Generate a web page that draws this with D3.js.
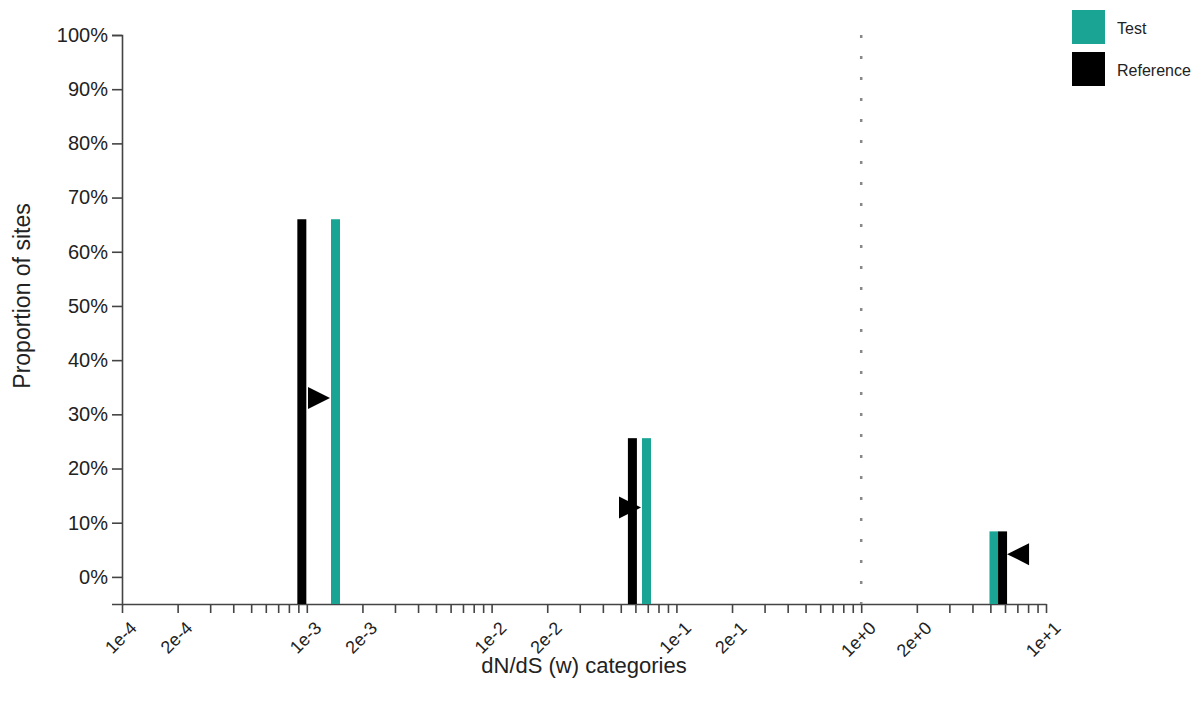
<!DOCTYPE html>
<html>
<head>
<meta charset="UTF-8">
<style>
body {
	margin: 0 ;
	background-color: #ffffff ;
	font-family: "Liberation Sans", Arial, Helvetica, sans-serif ;
}
.axis path, .axis line {
	stroke: #444 ;
	stroke-width: 1.6 ;
}
.axis text {
	fill: #222 ;
	font-family: "Liberation Sans", Arial, Helvetica, sans-serif ;
}
</style>
<title>omega plot</title>
<script src="https://cdn.jsdelivr.net/npm/d3@7/dist/d3.min.js"></script>
</head>
<body>
<div id="chart"></div>
<script type="text/javascript" charset="utf-8">

	// omega categories
	var series = [ "Test", "Reference" ] ;
	var testOmega = [ 0.00143, 0.0689, 5.23 ] ;
	var testWeight = [ 0.66, 0.256, 0.084 ] ;
	var refOmega = [ 0.00094, 0.0578, 5.82 ] ;
	var refWeight = [ 0.66, 0.256, 0.084 ] ;
	var yTicks = [ 0, 0.1, 0.2, 0.3, 0.4, 0.5, 0.6, 0.7, 0.8, 0.9, 1.0 ] ;
	var xDecades = [ -4, -3, -2, -1, 0 ] ;
	var xLabel = "dN/dS (w) categories" ;
	var yLabel = "Proportion of sites" ;

	var colors = { "Test": "#1aa494", "Reference": "#000000" } ;

	var width = 1201 ;
	var height = 706 ;
	var margin = { left: 122, top: 35, right: 155, bottom: 102 } ;

	var svg = d3.select( "#chart" ).append( "svg" )
		.attr( "width", width )
		.attr( "height", height ) ;

	var x = d3.scaleLog()
		.domain( [ 1e-4, 10 ] )
		.range( [ margin.left, width - margin.right ] ) ;

	var y = d3.scaleLinear()
		.domain( [ -0.05, 1 ] )
		.range( [ height - margin.bottom, margin.top ] ) ;

	// every 1..9 x 10^k tick, labels only on 1 and 2
	var xTicks = [] ;
	xDecades.forEach( function(k) {
		for( var m=1 ; m<10 ; m++ ) xTicks.push( m * Math.pow( 10, k ) ) ;
	}) ;
	xTicks.push( 10 ) ;
	var fmt = d3.format( ".0e" ) ;

	var xAxis = d3.axisBottom( x )
		.tickValues( xTicks )
		.tickSize( 9 )
		.tickSizeOuter( 0 )
		.tickFormat( function(d) {
			var lead = Math.round( d / Math.pow( 10, Math.floor( Math.log10( d ) + 1e-9 ) ) ) ;
			return ( lead == 1 || lead == 2 ) ? fmt( d ) : "" ;
		}) ;

	svg.append( "g" )
		.attr( "class", "axis" )
		.attr( "transform", "translate(0," + y( -0.05 ) + ")" )
		.call( xAxis )
		.selectAll( "text" )
			.attr( "font-size", "18px" )
			.style( "text-anchor", "end" )
			.attr( "x", -7 )
			.attr( "y", 16 )
			.attr( "dy", "0.71em" )
			.attr( "transform", "rotate(-45)" ) ;

	var yAxis = d3.axisLeft( y )
		.tickValues( yTicks )
		.tickSize( 10 )
		.tickFormat( d3.format( ".0%" ) ) ;

	var gy = svg.append( "g" )
		.attr( "class", "axis" )
		.attr( "transform", "translate(" + margin.left + ",0)" )
		.call( yAxis ) ;
	gy.selectAll( "text" )
		.attr( "font-size", "20px" )
		.attr( "x", -14 ) ;

	// dotted line at w = 1
	svg.append( "line" )
		.attr( "x1", x( 1 ) )
		.attr( "x2", x( 1 ) )
		.attr( "y1", y( 1 ) )
		.attr( "y2", y( -0.05 ) )
		.attr( "stroke", "#888" )
		.attr( "stroke-width", 2.5 )
		.attr( "stroke-dasharray", "3,18" ) ;

	var barW = 9 ;

	function drawBars( name, omegas, weights ) {
		svg.selectAll( "rect.bar-" + name )
			.data( omegas )
			.enter()
				.append( "rect" )
					.attr( "class", "bar-" + name )
					.attr( "x", function(d) { return x( d ) - barW / 2 } )
					.attr( "width", barW )
					.attr( "y", function(d, i) { return y( weights[i] ) } )
					.attr( "height", function(d, i) { return y( -0.05 ) - y( weights[i] ) } )
					.attr( "fill", colors[ name ] ) ;
	}
	drawBars( "Test", testOmega, testWeight ) ;
	drawBars( "Reference", refOmega, refWeight ) ;

	// arrow heads from reference towards test, half way up
	var arrowL = 22 , arrowH = 22 ;
	svg.selectAll( "path.arrow" )
		.data( refOmega )
		.enter()
			.append( "path" )
				.attr( "class", "arrow" )
				.attr( "fill", "#000" )
				.attr( "d", function(d, i) {
					var dir = testOmega[i] > d ? 1 : -1 ;
					var tip = dir > 0 ? x( testOmega[i] ) - barW / 2 - 1 : x( d ) + barW / 2 ;
					var cy = y( refWeight[i] / 2 ) ;
					var base = tip - dir * arrowL ;
					return "M" + tip + "," + cy +
						"L" + base + "," + ( cy - arrowH / 2 ) +
						"L" + base + "," + ( cy + arrowH / 2 ) + "Z" ;
				}) ;

	// axis titles
	svg.append( "text" )
		.attr( "x", ( x.range()[0] + x.range()[1] ) / 2 )
		.attr( "y", 673 )
		.attr( "text-anchor", "middle" )
		.attr( "font-size", "22px" )
		.attr( "fill", "#222" )
		.text( xLabel ) ;

	svg.append( "text" )
		.attr( "transform", "translate(30," + 296 + ") rotate(-90)" )
		.attr( "text-anchor", "middle" )
		.attr( "font-size", "23px" )
		.attr( "fill", "#222" )
		.text( yLabel ) ;

	// legend
	var legend = svg.selectAll( "g.legend" )
		.data( series )
		.enter()
			.append( "g" )
				.attr( "class", "legend" )
				.attr( "transform", function(d, i) { return "translate(1072," + ( 10 + i * 42 ) + ")" } ) ;
	legend.append( "rect" )
		.attr( "width", 33 )
		.attr( "height", 34 )
		.attr( "fill", function(d) { return colors[ d ] } ) ;
	legend.append( "text" )
		.attr( "x", 45 )
		.attr( "y", 24 )
		.attr( "font-size", "16px" )
		.attr( "fill", "#222" )
		.text( function(d) { return d } ) ;

</script>
</body>
</html>
